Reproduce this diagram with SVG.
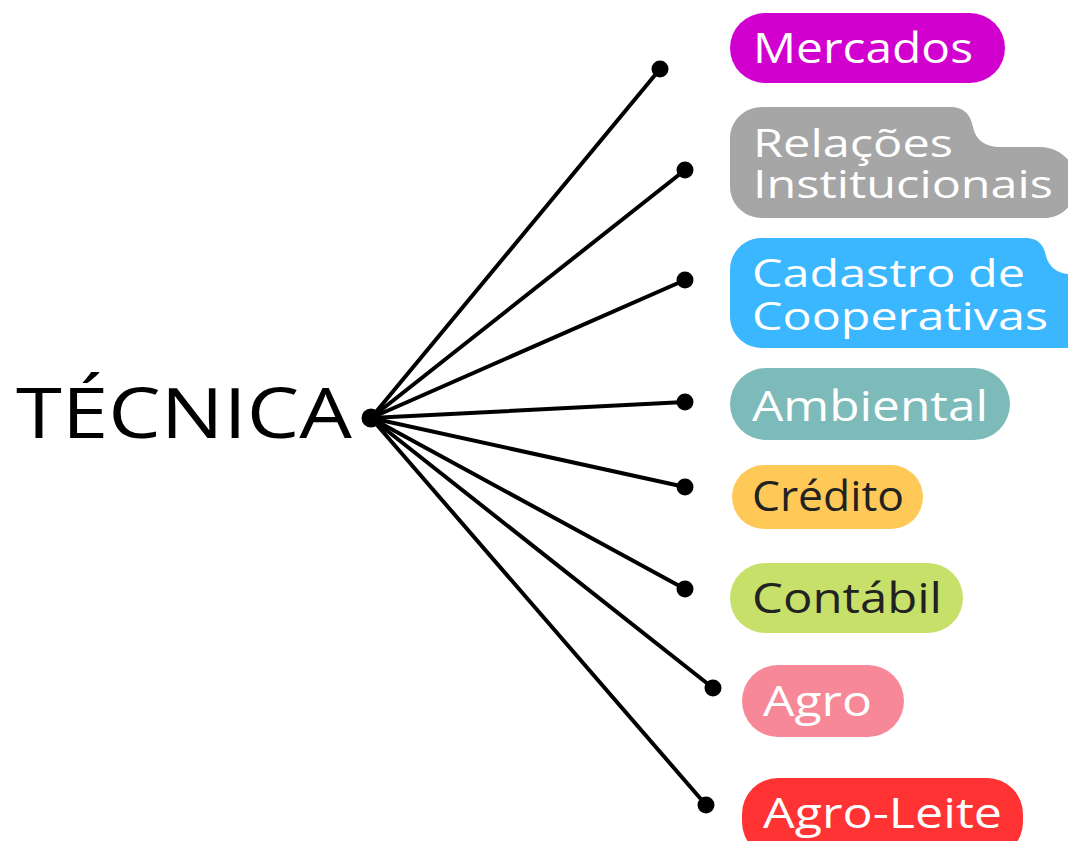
<svg xmlns="http://www.w3.org/2000/svg" width="1068" height="841" viewBox="0 0 1068 841">
<style>
.t{font-family:"Open Sans","Liberation Sans",sans-serif;font-size:42px;fill:#fff}
.s{font-size:38px}
.d{fill:#222}
.ln{stroke:#000;stroke-width:4;stroke-linecap:round;fill:none}
.dot{fill:#000}
</style>
<rect width="1068" height="841" fill="#fff"/>
<g id="connectors">
<line class="ln" x1="371" y1="418" x2="660" y2="69"/>
<line class="ln" x1="371" y1="418" x2="685" y2="170"/>
<line class="ln" x1="371" y1="418" x2="685" y2="280"/>
<line class="ln" x1="371" y1="418" x2="685" y2="402"/>
<line class="ln" x1="371" y1="418" x2="685" y2="487"/>
<line class="ln" x1="371" y1="418" x2="685" y2="589"/>
<line class="ln" x1="371" y1="418" x2="713" y2="688"/>
<line class="ln" x1="371" y1="418" x2="706" y2="805"/>
<circle class="dot" cx="660" cy="69" r="8.5"/>
<circle class="dot" cx="685" cy="170" r="8.5"/>
<circle class="dot" cx="685" cy="280" r="8.5"/>
<circle class="dot" cx="685" cy="402" r="8.5"/>
<circle class="dot" cx="685" cy="487" r="8.5"/>
<circle class="dot" cx="685" cy="589" r="8.5"/>
<circle class="dot" cx="713" cy="688" r="8.5"/>
<circle class="dot" cx="706" cy="805" r="8.5"/>
<circle class="dot" cx="371" cy="418" r="9.5"/>
</g>
<g id="tecnica">
<text x="16" y="438" style="font-family:'Open Sans','Liberation Sans',sans-serif;font-size:70px;fill:#000" textLength="336" lengthAdjust="spacingAndGlyphs">TÉCNICA</text>
</g>
<g id="mercados">
<rect x="730" y="13" width="275" height="70" rx="35" fill="#D100CF"/>
<text class="t" x="753" y="63" textLength="220" lengthAdjust="spacingAndGlyphs">Mercados</text>
</g>
<g id="relacoes">
<path d="M762,107 H950 C966,107 971,117 973,127 C976,141 986,147 1000,147 H1040 C1060,147 1076,162 1076,182 V186 C1076,204 1062,218 1044,218 H762 C744,218 730,204 730,186 V139 C730,121 744,107 762,107 Z" fill="#A6A6A6"/>
<text class="t s" x="753" y="157" textLength="200" lengthAdjust="spacingAndGlyphs">Relações</text>
<text class="t s" x="753" y="198" textLength="300" lengthAdjust="spacingAndGlyphs">Institucionais</text>
</g>
<g id="cadastro">
<path d="M762,238 H1025 C1040,238 1044,247 1046,256 C1049,267 1057,273 1068,274 H1080 V348 H762 C744,348 730,334 730,316 V270 C730,252 744,238 762,238 Z" fill="#3BB7FF"/>
<text class="t s" x="752" y="287" textLength="273" lengthAdjust="spacingAndGlyphs">Cadastro de</text>
<text class="t s" x="752" y="330" textLength="296" lengthAdjust="spacingAndGlyphs">Cooperativas</text>
</g>
<g id="ambiental">
<rect x="730" y="368" width="280" height="72" rx="36" fill="#7DBBBA"/>
<text class="t" x="752" y="421" textLength="236" lengthAdjust="spacingAndGlyphs">Ambiental</text>
</g>
<g id="credito">
<rect x="732" y="465" width="191" height="64" rx="32" fill="#FFC957"/>
<text class="t d" x="752" y="511" textLength="152" lengthAdjust="spacingAndGlyphs">Crédito</text>
</g>
<g id="contabil">
<rect x="730" y="563" width="233" height="70" rx="35" fill="#C6E06A"/>
<text class="t d" x="752" y="613" textLength="190" lengthAdjust="spacingAndGlyphs">Contábil</text>
</g>
<g id="agro">
<rect x="742" y="665" width="162" height="72" rx="36" fill="#F78897"/>
<text class="t" x="763" y="716" textLength="109" lengthAdjust="spacingAndGlyphs">Agro</text>
</g>
<g id="agroleite">
<rect x="742" y="778" width="281" height="80" rx="36" fill="#FF3333"/>
<text class="t" x="763" y="828" textLength="239" lengthAdjust="spacingAndGlyphs">Agro-Leite</text>
</g>
</svg>
